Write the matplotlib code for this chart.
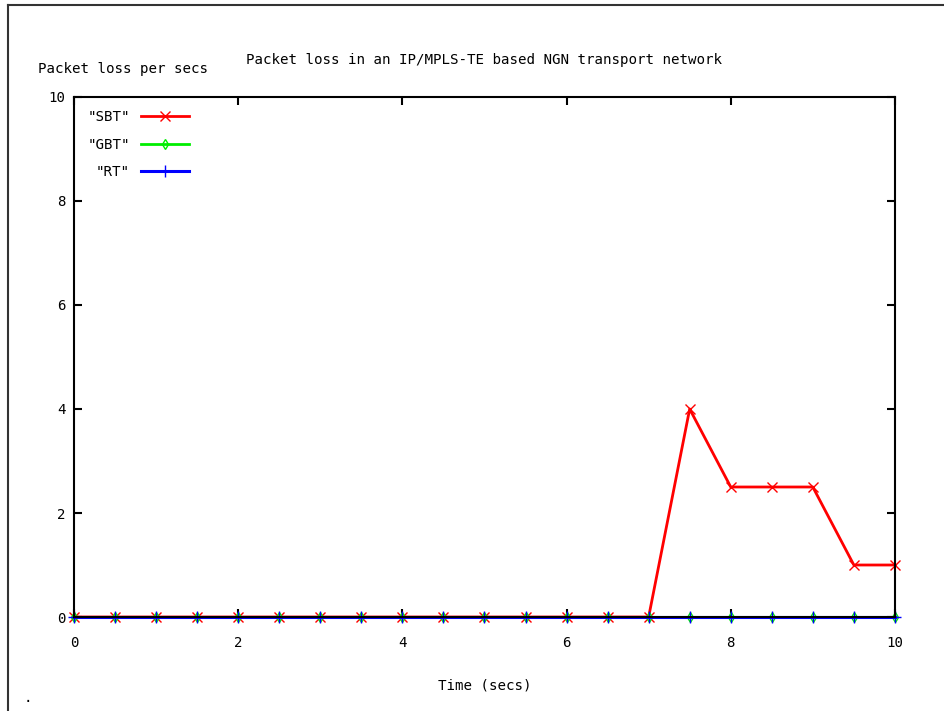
import numpy as np
import matplotlib.pyplot as plt
from matplotlib.lines import Line2D

plt.rcParams['font.family'] = 'DejaVu Sans Mono'

t = np.arange(0, 10.5, 0.5)
sbt = [0, 0, 0, 0, 0, 0, 0, 0, 0, 0, 0, 0, 0, 0, 0, 4.0, 2.5, 2.5, 2.5, 1.0, 1.0]
gbt = [0] * 21
rt = [0] * 21

fs = 10.2
fig = plt.figure(figsize=(9.45, 7.11), dpi=100)
ax = fig.add_axes([0.0783, 0.1322, 0.8687, 0.7314])

ax.plot(t, sbt, color='#ff0000', lw=2, marker='x', ms=7, mew=1, label='"SBT"', clip_on=False)
ax.plot(t, gbt, color='#00ee00', lw=2, marker='d', ms=5, mew=1, mfc='none', label='"GBT"', clip_on=False)
ax.plot(t, rt, color='#0000ff', lw=2.2, marker='+', ms=8, mew=1, label='"RT"', clip_on=False)

ax.set_xlim(0, 10)
ax.set_ylim(0, 10)
ax.set_xticks(range(0, 11, 2))
ax.set_yticks(range(0, 11, 2))
ax.tick_params(direction='in', length=6, width=1.5, top=True, right=True, labelsize=fs)
ax.tick_params(axis='x', pad=13.5)
ax.tick_params(axis='y', pad=6)
for s in ax.spines.values():
    s.set_linewidth(1.5)

ax.set_title('Packet loss in an IP/MPLS-TE based NGN transport network', fontsize=fs, pad=24)
ax.set_xlabel('Time (secs)', fontsize=fs, labelpad=21)
fig.text(0.04, 0.893, 'Packet loss per secs', fontsize=fs, va='bottom')

ax.legend(loc='upper left', frameon=False, markerfirst=False, fontsize=fs,
          handlelength=3.4, labelspacing=0.95, borderaxespad=0.55)

# screenshot frame
fig.add_artist(Line2D([0.0085, 1.0], [0.993, 0.993], color='#333333', lw=1.5))
fig.add_artist(Line2D([0.0085, 0.0085], [0.0, 0.993], color='#333333', lw=1.5))
fig.text(0.025, 0.012, '.', fontsize=fs)

fig.savefig('out.png', dpi=100)
